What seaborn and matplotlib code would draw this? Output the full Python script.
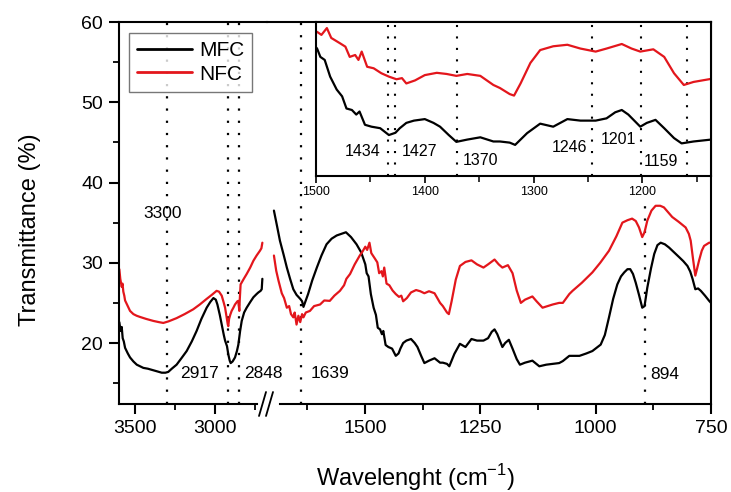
import matplotlib.pyplot as plt
import seaborn as sns
from matplotlib.lines import Line2D


# FTIR spectra: high-wavenumber part (3600-2700 cm-1)
mfc_hi_wn = [3598, 3590, 3583, 3577, 3570, 3562, 3545, 3531, 3510, 3489, 3448, 3420, 3385, 3350,
             3333, 3310, 3292, 3270, 3240, 3210, 3177, 3145, 3115, 3085, 3052, 3030, 3010, 2995,
             2985, 2970, 2958, 2945, 2937, 2925, 2917, 2908, 2902, 2890, 2875, 2863, 2854, 2843,
             2833, 2818, 2802, 2780, 2760, 2740, 2729, 2715, 2708, 2704]
mfc_hi = [22.6, 21.5, 22.0, 20.6, 20.2, 19.4, 18.7, 18.2, 17.7, 17.3, 16.9, 16.8, 16.6, 16.4,
          16.3, 16.3, 16.4, 16.8, 17.3, 18.1, 19.0, 20.2, 21.5, 23.0, 24.4, 25.1, 25.6, 25.4,
          24.8, 23.5, 22.3, 21.0, 20.3, 19.6, 18.6, 17.8, 17.5, 17.7, 18.2, 19.0, 19.8, 21.5,
          22.75, 23.8, 24.4, 25.1, 25.7, 26.1, 26.3, 26.5, 26.7, 28.0]

nfc_hi_wn = [3598, 3592, 3583, 3578, 3573, 3567, 3562, 3550, 3531, 3510, 3490, 3469, 3430, 3385,
             3350, 3323, 3290, 3240, 3190, 3136, 3095, 3052, 3020, 2990, 2975, 2958, 2945, 2937,
             2928, 2920, 2917, 2912, 2905, 2896, 2885, 2875, 2860, 2854, 2850, 2848, 2845, 2840,
             2820, 2802, 2780, 2760, 2740, 2719, 2710, 2704]
nfc_hi = [29.2, 28.0, 27.0, 27.4, 26.4, 25.9, 25.3, 24.8, 24.0, 23.6, 23.4, 23.25, 23.0, 22.75,
          22.6, 22.5, 22.7, 23.1, 23.6, 24.2, 24.8, 25.5, 26.0, 26.5, 26.4, 25.9, 25.0, 24.4,
          23.3, 22.3, 22.1, 23.0, 23.5, 24.0, 24.4, 24.8, 25.2, 25.25, 24.4, 24.0, 25.5, 27.3,
          28.0, 28.6, 29.4, 30.25, 30.9, 31.5, 31.8, 32.5]

# fingerprint part (1700-750 cm-1)
mfc_lo_wn = [1697, 1690, 1684, 1676, 1669, 1662, 1655, 1648, 1640, 1636, 1633, 1628, 1623, 1614,
             1604, 1594, 1583, 1572, 1561, 1551, 1541, 1530, 1518, 1508, 1499, 1496, 1492, 1487,
             1481, 1476, 1472, 1467, 1463, 1460, 1455, 1449, 1441, 1433, 1427, 1423, 1417, 1410,
             1400, 1392, 1386, 1378, 1371, 1361, 1349, 1337, 1331, 1322, 1317, 1306, 1294, 1282,
             1269, 1257, 1243, 1233, 1225, 1219, 1213, 1202, 1196, 1188, 1180, 1171, 1164, 1153,
             1137, 1122, 1107, 1093, 1079, 1071, 1057, 1035, 1020, 1007, 989, 980, 971, 962, 953,
             945, 938, 931, 925, 919, 913, 906, 899, 894, 888, 880, 873, 866, 859, 850, 841, 830,
             819, 810, 801, 795, 790, 784, 778, 772, 763, 754, 750]
mfc_lo = [36.5, 34.5, 32.75, 31.0, 29.4, 28.0, 26.7, 26.0, 25.5, 25.2, 24.5, 25.3, 26.1, 27.8,
          29.4, 30.9, 32.3, 33.0, 33.4, 33.6, 33.8, 33.2, 32.3, 31.3, 29.8, 28.7, 28.3, 26.1,
          24.4, 23.5, 21.9, 21.7, 21.1, 21.5, 19.75, 19.5, 19.3, 18.4, 18.7, 19.3, 20.0, 20.3,
          20.5, 20.0, 19.5, 18.4, 17.5, 17.8, 18.1, 17.55, 17.55, 17.4, 17.1, 18.65, 19.9, 19.5,
          20.5, 20.3, 20.3, 20.6, 21.4, 21.7, 21.1, 19.5, 20.0, 20.4, 19.3, 18.0, 17.3, 17.55,
          17.8, 17.1, 17.3, 17.4, 17.5, 17.75, 18.4, 18.4, 18.7, 19.0, 19.8, 21.0, 23.2, 25.5, 27.3,
          28.3, 28.8, 29.2, 29.2, 28.6, 27.5, 26.0, 24.4, 24.6, 26.9, 29.3, 31.1, 32.2, 32.5, 32.3,
          31.9, 31.3, 30.7, 30.2, 29.6, 28.9, 28.0, 26.7, 26.8, 26.5, 25.9, 25.25, 25.0]

nfc_lo_wn = [1697, 1692, 1687, 1680, 1675, 1669, 1664, 1660, 1655, 1652, 1648, 1644, 1640, 1636,
             1633, 1628, 1619, 1610, 1597, 1588, 1576, 1566, 1554, 1545, 1540, 1532, 1522, 1511,
             1505, 1499, 1495, 1490, 1486, 1478, 1473, 1469, 1464, 1461, 1458, 1453, 1447, 1440,
             1433, 1426, 1421, 1417, 1409, 1400, 1389, 1380, 1371, 1361, 1349, 1337, 1331, 1322,
             1318, 1312, 1303, 1294, 1282, 1269, 1257, 1243, 1233, 1219, 1210, 1202, 1190, 1180,
             1171, 1162, 1153, 1137, 1128, 1115, 1093, 1079, 1071, 1057, 1050, 1030, 1007, 990,
             971, 955, 942, 931, 921, 913, 906, 899, 894, 888, 879, 870, 860, 852, 843, 834, 820,
             805, 798, 794, 789, 784, 780, 776, 770, 765, 754, 750]
nfc_lo = [30.9, 29.0, 27.75, 26.2, 25.6, 24.4, 24.6, 23.6, 23.2, 23.8, 22.3, 23.4, 22.6, 23.6,
          23.2, 23.8, 24.0, 24.6, 24.8, 25.3, 25.25, 25.9, 26.5, 27.2, 28.0, 28.6, 29.8, 30.9,
          31.4, 32.0, 31.6, 32.5, 31.2, 30.5, 30.05, 28.7, 28.95, 28.3, 29.4, 27.4, 27.2, 26.55,
          26.1, 25.75, 25.9, 25.2, 25.6, 26.3, 26.6, 26.45, 26.2, 26.45, 26.2, 25.0, 24.6, 23.8,
          23.6, 25.2, 27.9, 29.6, 30.1, 30.3, 29.8, 29.4, 29.8, 30.4, 29.8, 29.4, 29.7, 28.7,
          26.55, 25.0, 25.4, 25.8, 25.2, 24.4, 24.8, 25.0, 25.0, 26.1, 26.5, 27.5, 28.8, 30.0,
          31.5, 33.3, 35.0, 35.3, 35.5, 35.2, 34.4, 33.2, 33.8, 35.25, 36.5, 37.1, 37.1, 36.9,
          36.3, 35.7, 35.1, 34.4, 33.6, 32.75, 30.5, 28.4, 29.3, 30.25, 31.5, 32.1, 32.5, 32.5]

series_names = ['MFC', 'NFC']
main_peaks = [3300, 2917, 2848, 1639, 894]
inset_peaks = [1434, 1427, 1370, 1246, 1201, 1159]

BLACK = '#000000'
RED = '#e3161c'
LW = 1.6
DOT = (0, (1, 4.5))

sns.set_style('ticks')
plt.rcParams['font.family'] = ['Liberation Sans', 'DejaVu Sans']
plt.rcParams['mathtext.fontset'] = 'custom'
plt.rcParams['mathtext.rm'] = 'Liberation Sans'
plt.rcParams['axes.linewidth'] = 1.5
for key in ('text.color', 'axes.labelcolor', 'axes.edgecolor', 'xtick.color', 'ytick.color'):
    plt.rcParams[key] = 'black'

W, H = 731, 492
fig = plt.figure(figsize=(W / 100, H / 100), dpi=100)


def box(x0, y0, x1, y1):
    return [x0 / W, 1 - y1 / H, (x1 - x0) / W, (y1 - y0) / H]


ax_l = fig.add_axes(box(119, 22, 267, 404))
ax_r = fig.add_axes(box(267, 22, 711, 404))
ax_in = fig.add_axes(box(316, 22, 711, 176))
ax_l.patch.set_visible(False)
ax_r.patch.set_visible(False)

for ax, (mx, my, nx, ny) in [(ax_l, (mfc_hi_wn, mfc_hi, nfc_hi_wn, nfc_hi)),
                             (ax_r, (mfc_lo_wn, mfc_lo, nfc_lo_wn, nfc_lo)),
                             (ax_in, (mfc_lo_wn, mfc_lo, nfc_lo_wn, nfc_lo))]:
    sns.lineplot(x=mx, y=my, ax=ax, color=BLACK, lw=LW, legend=False)
    sns.lineplot(x=nx, y=ny, ax=ax, color=RED, lw=LW, legend=False)

# main axes (broken x axis)
ax_l.set_xlim(3600, 2675)
ax_r.set_xlim(1712, 750)
for ax in (ax_l, ax_r):
    ax.set_ylim(12.4, 60)
    ax.set_xlabel('')
    ax.set_ylabel('')
    ax.tick_params(which='major', direction='out', length=7.5, width=1.5, labelsize=14, pad=4)
    ax.tick_params(which='minor', direction='out', length=4, width=1.3)

ax_l.set_xticks([3500, 3000])
ax_l.set_xticks([3250, 2750], minor=True)
ax_l.set_yticks([20, 30, 40, 50, 60])
ax_l.set_yticks([15, 25, 35, 45, 55], minor=True)
ax_l.spines['right'].set_visible(False)
ax_l.spines['bottom'].set_bounds(3600, 2737)

ax_r.set_xticks([1500, 1250, 1000, 750])
ax_r.set_xticks([1625, 1375, 1125, 875], minor=True)
ax_r.set_yticks([])
ax_r.tick_params(which='both', left=False, labelleft=False)
ax_r.spines['left'].set_visible(False)
ax_r.spines['bottom'].set_bounds(1684, 750)

# break marks
for x0 in (259, 266):
    fig.add_artist(Line2D([x0 / W, (x0 + 7) / W], [1 - 416 / H, 1 - 392 / H],
                          color='black', lw=1.3, transform=fig.transFigure))

# peak markers on main plot
for wn in main_peaks[:3]:
    ax_l.axvline(wn, color='black', lw=1.6, ls=DOT, zorder=1)
ax_r.axvline(main_peaks[3], color='black', lw=1.6, ls=DOT, zorder=1)
ax_r.vlines(main_peaks[4], 12.4, 37.3, color='black', lw=1.6, ls=DOT, zorder=1)

ax_l.text(3325, 36.1, '3300', ha='center', va='center', fontsize=12.5)
ax_l.text(2975, 16.25, '2917', ha='right', va='center', fontsize=12.5)
ax_l.text(2819, 16.25, '2848', ha='left', va='center', fontsize=12.5, zorder=5)
ax_r.text(1617, 16.25, '1639', ha='left', va='center', fontsize=12.5)
ax_r.text(882, 16.1, '894', ha='left', va='center', fontsize=12.5)

# inset
ax_in.set_facecolor('white')
ax_in.set_xlim(1500, 1137)
ax_in.set_ylim(13.0, 33.3)
ax_in.set_xlabel('')
ax_in.set_ylabel('')
ax_in.set_yticks([])
ax_in.set_xticks([1500, 1400, 1300, 1200])
ax_in.set_xticks([1450, 1350, 1250, 1150], minor=True)
ax_in.tick_params(which='major', direction='out', length=5, width=1.2, labelsize=9, pad=2)
ax_in.tick_params(which='minor', direction='out', length=4, width=1.1)
for wn in inset_peaks:
    ax_in.axvline(wn, color='black', lw=1.5, ls=DOT, zorder=1)

ax_in.text(1441, 16.2, '1434', ha='right', va='center', fontsize=11.5)
ax_in.text(1421, 16.2, '1427', ha='left', va='center', fontsize=11.5)
ax_in.text(1365, 15.0, '1370', ha='left', va='center', fontsize=11.5)
ax_in.text(1251, 16.7, '1246', ha='right', va='center', fontsize=11.5)
ax_in.text(1238, 17.8, '1201', ha='left', va='center', fontsize=11.5)
ax_in.text(1199, 14.9, '1159', ha='left', va='center', fontsize=11.5)

# legend
handles = [Line2D([], [], color=BLACK, lw=2), Line2D([], [], color=RED, lw=2)]
leg = fig.legend(handles, series_names, loc='upper left', bbox_to_anchor=(129 / W, 1 - 33 / H),
                 frameon=True, fancybox=False, edgecolor='#555555', fontsize=15,
                 handlelength=2.6, handletextpad=0.35, borderpad=0.4, labelspacing=0.2,
                 borderaxespad=0)
leg.get_frame().set_linewidth(1.0)

fig.text(415 / W, 1 - 478 / H, 'Wavelenght (cm$^{-1}$)', ha='center', va='center', fontsize=17)
fig.text(30 / W, 1 - 230 / H, 'Transmittance (%)', rotation=90, ha='center', va='center',
         fontsize=17)

fig.savefig('out.png', dpi=100)
